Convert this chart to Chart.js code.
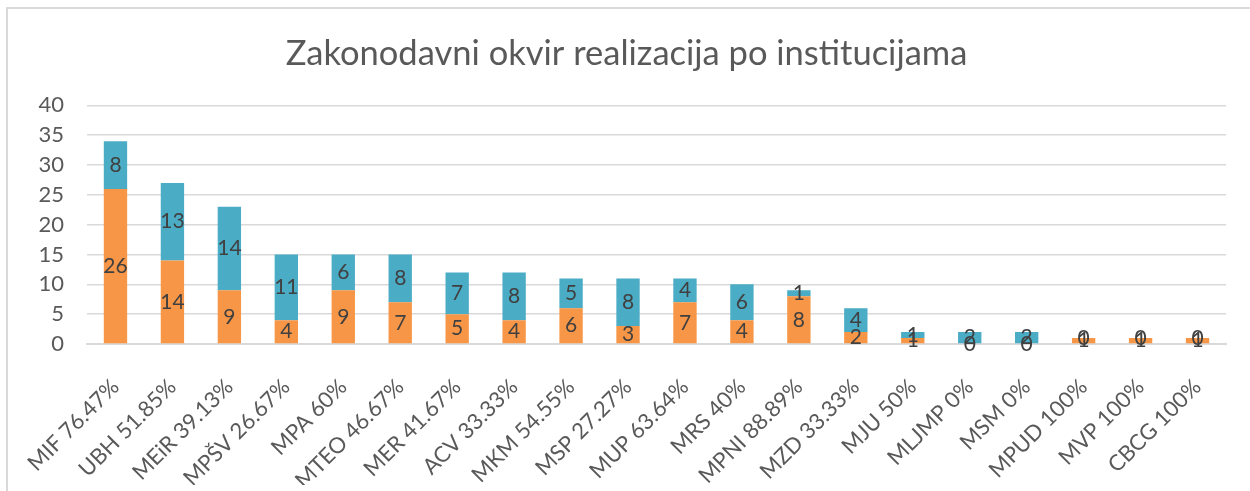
<!DOCTYPE html>
<html>
<head>
<meta charset="utf-8">
<script src="https://cdn.jsdelivr.net/npm/chart.js@4.4.1/dist/chart.umd.min.js"></script>
<style>
  html, body { margin: 0; padding: 0; background: #fff; }
  #wrap { position: relative; width: 1250px; height: 491px; overflow: hidden; }
  #frame { position: absolute; left: 6px; top: 7px; width: 1300px; height: 600px;
           border-left: 2px solid #D9D9D9; border-top: 2px solid #D9D9D9; box-sizing: border-box; }
  canvas { position: absolute; left: 0; top: 0; }
</style>
</head>
<body>
<div id="wrap">
  <div id="frame"></div>
  <canvas id="c" width="1250" height="491"></canvas>
</div>
<script>
const categories = ["MIF 76.47%", "UBH 51.85%", "MEiR 39.13%", "MPŠV 26.67%", "MPA 60%", "MTEO 46.67%",
  "MER 41.67%", "ACV 33.33%", "MKM 54.55%", "MSP 27.27%", "MUP 63.64%", "MRS 40%", "MPNI 88.89%",
  "MZD 33.33%", "MJU 50%", "MLJMP 0%", "MSM 0%", "MPUD 100%", "MVP 100%", "CBCG 100%"];
const realized   = [26, 14, 9, 4, 9, 7, 5, 4, 6, 3, 7, 4, 8, 2, 1, 0, 0, 1, 1, 1];
const unrealized = [8, 13, 14, 11, 6, 8, 7, 8, 5, 8, 4, 6, 1, 4, 1, 2, 2, 0, 0, 0];
const yTicks = [0, 5, 10, 15, 20, 25, 30, 35, 40];

const FONT = "Lato";

const labelPlugin = {
  id: "segLabels",
  afterDatasetsDraw(chart) {
    const ctx = chart.ctx;
    ctx.save();
    ctx.fillStyle = "#404040";
    ctx.font = "21px " + FONT;
    ctx.textAlign = "center";
    ctx.textBaseline = "middle";
    chart.data.datasets.forEach((ds, di) => {
      const meta = chart.getDatasetMeta(di);
      meta.data.forEach((bar, i) => {
        const p = bar.getProps(["x", "y", "base"], true);
        const cy = (p.y + p.base) / 2;
        ctx.fillText(String(ds.data[i]), p.x, cy);
      });
    });
    ctx.restore();
  }
};

new Chart(document.getElementById("c"), {
  type: "bar",
  data: {
    labels: categories,
    datasets: [
      { label: "Realizovano", data: realized, backgroundColor: "#F79646", barPercentage: 0.41, categoryPercentage: 1 },
      { label: "Nerealizovano", data: unrealized, backgroundColor: "#4BACC6", barPercentage: 0.41, categoryPercentage: 1 }
    ]
  },
  options: {
    responsive: false,
    animation: false,
    layout: { padding: { left: 27, right: 24, top: 18, bottom: 6 } },
    plugins: {
      legend: { display: false },
      tooltip: { enabled: false },
      title: {
        display: true,
        text: "Zakonodavni okvir realizacija po institucijama",
        color: "#595959",
        font: { family: FONT, size: 34.5, weight: "normal" },
        padding: { top: 15, bottom: 31 }
      }
    },
    scales: {
      x: {
        stacked: true,
        grid: { display: false },
        border: { color: "#D9D9D9", width: 2 },
        ticks: {
          color: "#595959",
          font: { family: FONT, size: 22 },
          maxRotation: 45, minRotation: 45,
          autoSkip: false,
          padding: 22
        },
        afterFit(scale) { scale.height = 141; }
      },
      y: {
        stacked: true,
        min: 0, max: 40,
        afterBuildTicks(scale) { scale.ticks = yTicks.map(v => ({ value: v })); },
        grid: { color: "#D9D9D9", lineWidth: 1.5, drawTicks: false },
        border: { display: false },
        ticks: {
          color: "#595959",
          font: { family: FONT, size: 22 },
          padding: 23
        },
        afterFit(scale) { scale.width = 60; }
      }
    }
  },
  plugins: [labelPlugin]
});
</script>
</body>
</html>
